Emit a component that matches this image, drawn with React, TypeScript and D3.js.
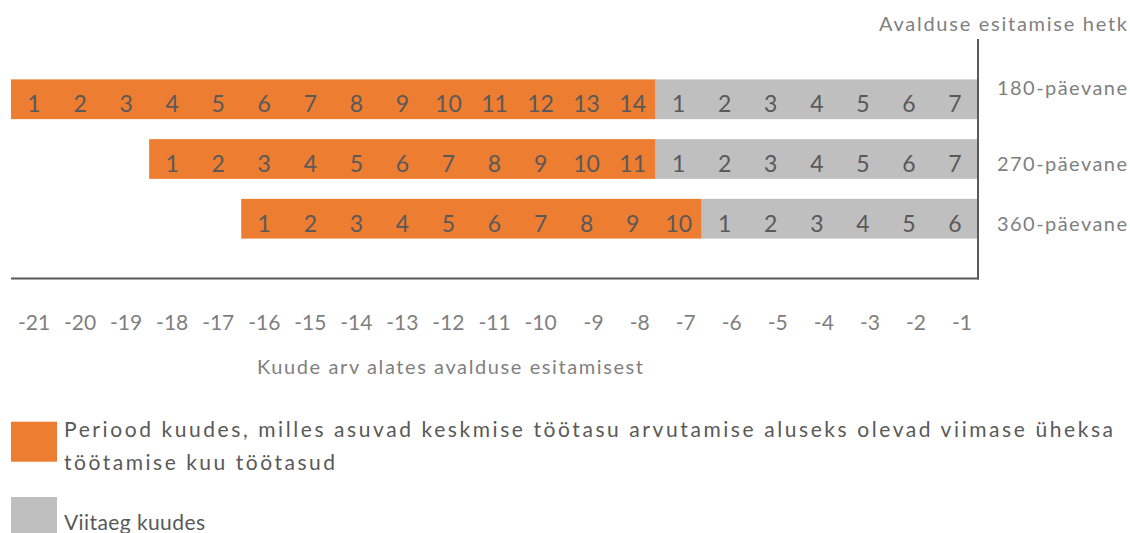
import React from "react";
import * as d3 from "d3";

const rows = ["180-päevane", "270-päevane", "360-päevane"];
const periodMonths = [14, 11, 10];
const delayMonths = [7, 7, 6];
const monthTicks = [-21, -20, -19, -18, -17, -16, -15, -14, -13, -12, -11, -10, -9, -8, -7, -6, -5, -4, -3, -2, -1];
const topLabel = "Avalduse esitamise hetk";
const axisTitle = "Kuude arv alates avalduse esitamisest";
const legendLabels = [
  ["Periood kuudes, milles asuvad keskmise töötasu arvutamise aluseks olevad viimase üheksa", "töötamise kuu töötasud"],
  ["Viitaeg kuudes"],
];

const ORANGE = "#ED7D31";
const GRAY = "#BFBFBF";
const DARK = "#595959";
const MID = "#7F7F7F";
const FONT = "Lato, 'Open Sans', sans-serif";

export default function App() {
  const W = 1130, H = 533;
  const x = d3.scaleLinear().domain([-21, 0]).range([11, 978]);
  const y = d3.scaleBand<string>().domain(rows).range([69.4, 248.6]).paddingInner(0.335).paddingOuter(0.1675);
  const bw = y.bandwidth();

  return (
    <svg width={W} height={H} style={{ position: "absolute", left: 0, top: 0, fontFamily: FONT }}>
      {rows.map((r, i) => {
        const gStart = -delayMonths[i];
        const oStart = gStart - periodMonths[i];
        const y0 = y(r)!;
        const cy = y0 + bw / 2;
        return (
          <g key={r}>
            <rect x={x(oStart)} y={y0} width={x(gStart) - x(oStart)} height={bw} fill={ORANGE} />
            <rect x={x(gStart)} y={y0} width={x(0) - x(gStart)} height={bw} fill={GRAY} />
            {d3.range(periodMonths[i]).map((k) => (
              <text key={"o" + k} x={x(oStart + k + 0.5)} y={cy + 13} textAnchor="middle" fontSize={23} fill={DARK}>
                {k + 1}
              </text>
            ))}
            {d3.range(delayMonths[i]).map((k) => (
              <text key={"g" + k} x={x(gStart + k + 0.5)} y={cy + 13} textAnchor="middle" fontSize={23} fill={DARK}>
                {k + 1}
              </text>
            ))}
            <text x={997} y={cy + (i === 0 ? -4 : 12)} fontSize={20} fill={MID} textLength={130} lengthAdjust="spacing">
              {r}
            </text>
          </g>
        );
      })}
      <line x1={11} x2={979} y1={278.5} y2={278.5} stroke={DARK} strokeWidth={2} />
      <line x1={978} x2={978} y1={39} y2={279.5} stroke={DARK} strokeWidth={2} />
      <text x={1127} y={31} textAnchor="end" fontSize={20} fill={MID} textLength={248} lengthAdjust="spacing">
        {topLabel}
      </text>
      {monthTicks.map((m, i) => (
        <text key={m} x={x(m + 0.5) + (i >= 12 ? 7 : 0)} y={330} textAnchor="middle" fontSize={21} fill={MID}>
          {m}
        </text>
      ))}
      <text x={257} y={374} fontSize={20} fill={MID} textLength={386} lengthAdjust="spacing">
        {axisTitle}
      </text>
      <rect x={11} y={421.7} width={46} height={40} fill={ORANGE} />
      <text x={64} y={437} fontSize={21} fill={DARK} textLength={1049} lengthAdjust="spacing">
        {legendLabels[0][0]}
      </text>
      <text x={64} y={470} fontSize={21} fill={DARK} textLength={271} lengthAdjust="spacing">
        {legendLabels[0][1]}
      </text>
      <rect x={11} y={497} width={46} height={40} fill={GRAY} />
      <text x={64} y={530} fontSize={21} fill={DARK} textLength={141} lengthAdjust="spacing">
        {legendLabels[1][0]}
      </text>
    </svg>
  );
}
